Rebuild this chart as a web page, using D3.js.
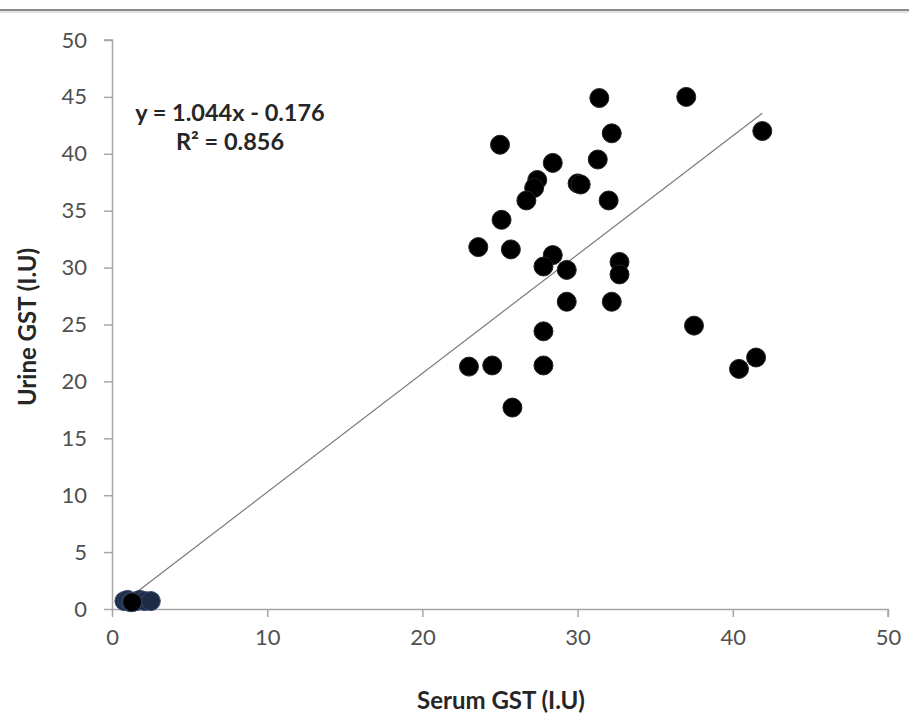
<!DOCTYPE html>
<html lang="en">
  <head>
    <meta charset="utf-8" />
    <title>Urine GST vs Serum GST</title>
    <style>
      body {
        margin: 0;
        background: #fff;
        overflow: hidden;
      }
      svg {
        display: block;
        font-family: Lato, 'Open Sans', sans-serif;
      }
      .tick text {
        fill: #505050;
        font-size: 22px;
      }
    </style>
  </head>
  <body>
    <div class="container"></div>
    <script src="https://cdn.jsdelivr.net/npm/d3@7"></script>
    <script>
      // Data
      const serum = [
        31.4, 37.0, 41.9, 32.2, 25.0, 28.4, 31.3, 27.4, 27.2, 26.7, 30.0, 30.2,
        32.0, 25.1, 23.6, 25.7, 28.4, 27.8, 29.3, 32.7, 32.7, 29.3, 32.2, 27.8,
        37.5, 23.0, 24.5, 27.8, 40.4, 41.5, 25.8,
        0.8, 1.0, 1.2, 1.6, 1.8, 2.1, 2.5, 1.3,
      ];
      const urine = [
        44.9, 45.0, 42.0, 41.8, 40.8, 39.2, 39.5, 37.7, 37.0, 35.9, 37.4, 37.3,
        35.9, 34.2, 31.8, 31.6, 31.1, 30.1, 29.8, 30.5, 29.4, 27.0, 27.0, 24.4,
        24.9, 21.3, 21.4, 21.4, 21.1, 22.1, 17.7,
        0.7, 0.8, 0.6, 0.7, 0.8, 0.7, 0.7, 0.6,
      ];
      const xTicks = [0, 10, 20, 30, 40, 50];
      const yTicks = [0, 5, 10, 15, 20, 25, 30, 35, 40, 45, 50];
      const slope = 1.044;
      const intercept = -0.176;
      const equation = ['y = 1.044x - 0.176', 'R² = 0.856'];
      const xTitle = 'Serum GST (I.U)';
      const yTitle = 'Urine GST (I.U)';

      const width = 909;
      const height = 717;

      const svg = d3
        .select('div.container')
        .append('svg')
        .attr('width', width)
        .attr('height', height);

      // grey rule across the top
      svg
        .append('line')
        .attr('x1', 0)
        .attr('x2', width)
        .attr('y1', 10)
        .attr('y2', 10)
        .attr('stroke', '#8a8a8a')
        .attr('stroke-width', 2);
      svg
        .append('line')
        .attr('x1', 0)
        .attr('x2', width)
        .attr('y1', 12)
        .attr('y2', 12)
        .attr('stroke', '#d8d8d8')
        .attr('stroke-width', 1.5);

      const x = d3.scaleLinear().domain([0, 50]).range([112, 888]);
      const y = d3.scaleLinear().domain([0, 50]).range([609, 40]);

      const xAxis = svg
        .append('g')
        .attr('transform', `translate(0,${y(0)})`)
        .call(d3.axisBottom(x).tickValues(xTicks).tickSize(8).tickPadding(12));
      const yAxis = svg
        .append('g')
        .attr('transform', `translate(${x(0)},0)`)
        .call(d3.axisLeft(y).tickValues(yTicks).tickSize(8).tickPadding(17));

      [xAxis, yAxis].forEach((a) => {
        a.select('.domain').attr('stroke', '#a6a6a6').attr('stroke-width', 1.5);
        a.selectAll('.tick line').attr('stroke', '#a6a6a6').attr('stroke-width', 1.5);
        a.selectAll('.tick text').attr('font-family', 'Lato, sans-serif');
      });
      // outer ends of the axis lines bend like ticks
      xAxis.select('.domain').attr('d', `M${x(0)},0.5H${x(50)}V8`);
      yAxis.select('.domain').attr('d', `M-8,${y(50)}H0.5V${y(0)}`);

      // trend line
      const xs = d3.extent(serum);
      svg
        .append('line')
        .attr('x1', x(xs[0]))
        .attr('y1', y(slope * xs[0] + intercept))
        .attr('x2', x(xs[1]))
        .attr('y2', y(slope * xs[1] + intercept))
        .attr('stroke', '#7a7a7a')
        .attr('stroke-width', 1.2);

      // points
      const pts = serum.map((s, i) => ({ s, u: urine[i] }));
      svg
        .append('g')
        .selectAll('circle')
        .data(pts)
        .join('circle')
        .attr('cx', (d) => x(d.s))
        .attr('cy', (d) => y(d.u))
        .attr('r', 9.5)
        .attr('fill', (d, i) => (d.s < 5 && i < pts.length - 1 ? '#1e2b45' : '#000'))
        .attr('stroke', (d) => (d.s < 5 ? '#34466a' : '#222'))
        .attr('stroke-width', 1);

      // equation
      const eq = svg
        .append('text')
        .attr('x', 230)
        .attr('y', 121)
        .attr('text-anchor', 'middle')
        .attr('font-weight', 'bold')
        .attr('font-size', 23.5)
        .attr('fill', '#262626');
      eq.append('tspan').attr('x', 230).text(equation[0]);
      eq.append('tspan').attr('x', 230).attr('dy', 29).text(equation[1]);

      // axis titles
      svg
        .append('text')
        .attr('x', 501)
        .attr('y', 709)
        .attr('text-anchor', 'middle')
        .attr('font-weight', 'bold')
        .attr('font-size', 24)
        .attr('fill', '#262626')
        .text(xTitle);
      svg
        .append('text')
        .attr('transform', 'translate(36,327) rotate(-90)')
        .attr('text-anchor', 'middle')
        .attr('font-weight', 'bold')
        .attr('font-size', 24)
        .attr('fill', '#262626')
        .text(yTitle);
    </script>
  </body>
</html>
